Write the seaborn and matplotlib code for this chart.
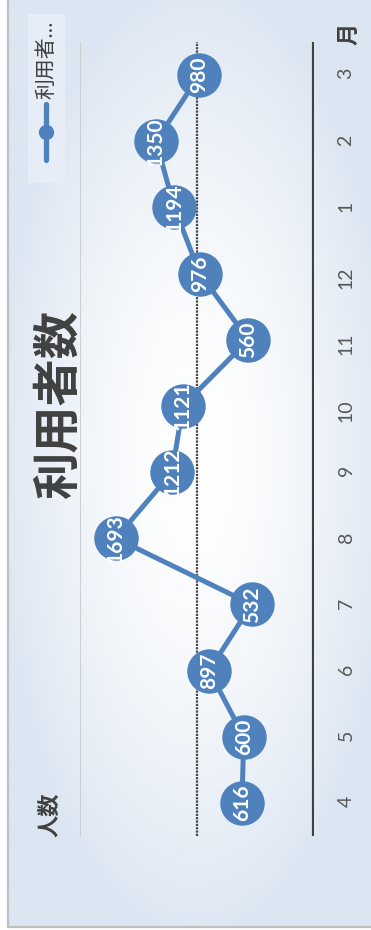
import numpy as np
import pandas as pd
import matplotlib
matplotlib.use("Agg")
import matplotlib.pyplot as plt
import seaborn as sns
from matplotlib.lines import Line2D
from matplotlib.patches import Rectangle

# =====================================================
# Data
# =====================================================

months = ["4", "5", "6", "7", "8", "9", "10", "11", "12", "1", "2", "3"]
users = [616, 600, 897, 532, 1693, 1212, 1121, 560, 976, 1194, 1350, 980]

series_name = "利用者数"
title = "利用者数"
value_label = "人数"
month_label = "月"

# =====================================================
# Style
# =====================================================

W, H, DPI = 371, 930, 100
BLUE = "#4f81bd"
DARK = "#404040"
GREY = "#595959"
ROT = 90

sns.set_theme(style="white")
plt.rcParams["font.family"] = ["Lato", "Noto Sans CJK JP", "DejaVu Sans"]


def fx(px):
    return px / W


def fy(py):
    return 1 - py / H


fig = plt.figure(figsize=(W / DPI, H / DPI), dpi=DPI, facecolor="white")

# background panel with soft radial gradient
bg = fig.add_axes([0, 0, 1, 1])
bg.set_xlim(0, W)
bg.set_ylim(H, 0)
bg.axis("off")

yy, xx = np.mgrid[0:928, 8:W]
d = np.sqrt(((xx - 195) / 200.0) ** 2 + ((yy - 460) / 480.0) ** 2)
t = np.clip(d, 0, 1) ** 1.6
edge = np.array([220, 230, 242]) / 255.0
centre = np.array([255, 255, 255]) / 255.0
img = centre * (1 - t[..., None]) + edge * t[..., None]
bg.imshow(img, extent=(8, W, 928, 0), aspect="auto", zorder=0)

bg.plot([8, 8], [0, 927], color="#c0c0c0", lw=1.6, zorder=1)
bg.plot([8, W], [927, 927], color="#c0c0c0", lw=1.6, zorder=1)

# legend (drawn by hand, rotated like the rest of the chart)
bg.add_patch(Rectangle((28, 14), 37, 169, facecolor="#e6edf6", edgecolor="none", zorder=1))
bg.add_line(Line2D([46, 46], [104, 160], color=BLUE, lw=3.8, solid_capstyle="round", zorder=2))
bg.add_line(Line2D([46], [132], color=BLUE, marker="o", markersize=10, zorder=3))
bg.text(46, 60, series_name[:3] + "…", rotation=ROT, ha="center", va="center",
        fontsize=15, color=DARK, zorder=3)

# =====================================================
# Line chart
# =====================================================

ax = fig.add_axes([fx(80), fy(836), fx(314) - fx(80), (836 - 42) / H])
ax.patch.set_alpha(0)

ax.axvline(2000, color="#c8c8c8", lw=1.2, zorder=1)
ax.axvline(1000, color="#474747", lw=1.6, ls=(0, (1, 0.5)), zorder=1)
ax.axvline(0, color=DARK, lw=3.0, zorder=1)

df = pd.DataFrame({"month_idx": range(len(months)), "users": users})

sns.lineplot(
    data=df,
    x="users",
    y="month_idx",
    orient="y",
    sort=False,
    ax=ax,
    color=BLUE,
    linewidth=3.6,
    marker="o",
    markersize=32,
    markeredgewidth=0,
    clip_on=False,
    zorder=3
)

for i, v in enumerate(users):
    ax.text(v, i, f"{v}", rotation=ROT, ha="center", va="center",
            color="white", fontsize=15, fontweight="bold", zorder=4)

ax.set_xlim(2000, 0)
ax.set_ylim(-0.5, len(months) - 0.5)
ax.set_xticks([])
ax.set_yticks(range(len(months)), months)
ax.yaxis.tick_right()
ax.tick_params(axis="y", length=0, pad=17, labelsize=14,
               labelcolor=GREY, labelrotation=ROT)
ax.set_xlabel("")
ax.set_ylabel("")
for s in ax.spines.values():
    s.set_visible(False)

# =====================================================
# Titles
# =====================================================

fig.text(fx(58), fy(403), title, rotation=ROT, ha="center", va="center",
         fontsize=34, fontweight="bold", color=DARK)
fig.text(fx(50), fy(815), value_label, rotation=ROT, ha="center", va="center",
         fontsize=16, fontweight="bold", color=DARK)
fig.text(fx(349), fy(34), month_label, rotation=ROT, ha="center", va="center",
         fontsize=16, fontweight="bold", color=DARK)

fig.savefig("out.png", dpi=DPI, facecolor="white")
plt.close(fig)
